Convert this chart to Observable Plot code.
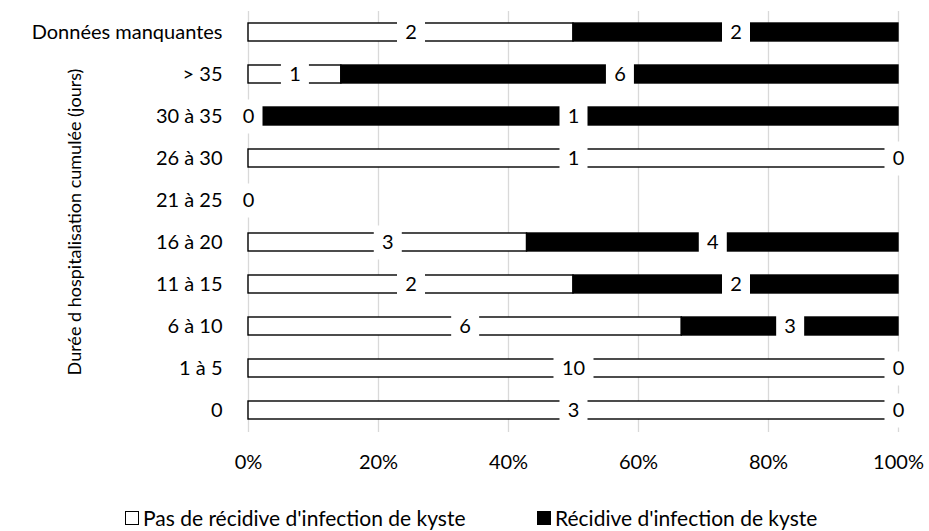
<!DOCTYPE html>
<html>
<head>
<meta charset="utf-8">
<script src="https://cdn.jsdelivr.net/npm/d3@7"></script>
<script src="https://cdn.jsdelivr.net/npm/@observablehq/plot@0.6"></script>
<style>
  html, body { margin: 0; padding: 0; background: #fff; }
  body { width: 929px; height: 531px; overflow: hidden; font-family: Lato, "Open Sans", sans-serif; position: relative; }
  #legend { position: relative; height: 36px; font-size: 21px; line-height: 25px; color: #000; }
  .item { position: absolute; top: 10px; display: flex; align-items: center; white-space: nowrap; }
  .sw { width: 14px; height: 14px; box-sizing: border-box; border: 1.5px solid #000; margin-right: 4px; }
</style>
</head>
<body>
<div id="chart"></div>
<div id="legend">
  <div class="item" style="left:125px"><span class="sw" style="background:#fff"></span>Pas de récidive d'infection de kyste</div>
  <div class="item" style="left:537px"><span class="sw" style="background:#000"></span>Récidive d'infection de kyste</div>
</div>
<script>
const categories = ["0", "1 à 5", "6 à 10", "11 à 15", "16 à 20", "21 à 25", "26 à 30", "30 à 35", "> 35", "Données manquantes"];
const pasRecidive = [3, 10, 6, 2, 3, 0, 1, 0, 1, 2];
const recidive = [0, 0, 3, 2, 4, 0, 0, 1, 6, 2];
const xTicks = [0, 0.2, 0.4, 0.6, 0.8, 1];
const seriesNames = ["Pas de récidive d'infection de kyste", "Récidive d'infection de kyste"];
const yTitle = "Durée d hospitalisation cumulée (jours)";

const bars = [];
const labels = [];
categories.forEach((c, i) => {
  const a = pasRecidive[i], b = recidive[i], t = a + b;
  if (t > 0) {
    bars.push({cat: c, series: seriesNames[0], x1: 0, x2: a / t});
    bars.push({cat: c, series: seriesNames[1], x1: a / t, x2: 1});
    labels.push({cat: c, v: a, x: a / t / 2});
    labels.push({cat: c, v: b, x: b === 0 ? 1 : (a + b / 2) / t});
  } else {
    // both labels coincide at 0%: draw a single one
    labels.push({cat: c, v: a, x: 0});
  }
});

const boxSym = (w, h) => ({draw(ctx) { ctx.rect(-w / 2, -h / 2, w, h); }});

const FONT = 20;
const chart = Plot.plot({
  width: 929,
  height: 495,
  marginLeft: 248,
  marginRight: 31,
  marginTop: 11,
  marginBottom: 63,
  style: {fontFamily: "Lato, 'Open Sans', sans-serif", fontSize: FONT + "px", color: "#000", background: "#fff"},
  x: {domain: [0, 1]},
  y: {domain: categories.slice().reverse(), paddingInner: 0.57, paddingOuter: 0.285},
  color: {domain: seriesNames, range: ["#ffffff", "#000000"]},
  symbol: {domain: [1, 2], range: [boxSym(28, 34), boxSym(40, 34)]},
  marks: [
    Plot.ruleX(xTicks, {stroke: "#d9d9d9", strokeWidth: 1.3}),
    Plot.barX(bars, {x1: "x1", x2: "x2", y: "cat", fill: "series", stroke: "#000", strokeWidth: 1.4}),
    Plot.dot(labels, {x: "x", y: "cat", symbol: d => String(d.v).length, fill: "#fff", stroke: "none"}),
    Plot.text(labels, {x: "x", y: "cat", text: d => String(d.v), fill: "#000", fontSize: FONT}),
    Plot.axisX(xTicks, {tickFormat: d3.format(".0%"), tickSize: 0, tickPadding: 22, fontSize: FONT, label: null}),
    Plot.axisY({tickSize: 0, tickPadding: 26, fontSize: FONT, label: null}),
    Plot.text([yTitle], {frameAnchor: "left", textAnchor: "middle", dx: -173, rotate: -90, fontSize: 18, text: d => d})
  ]
});
document.getElementById("chart").appendChild(chart);
</script>
</body>
</html>
